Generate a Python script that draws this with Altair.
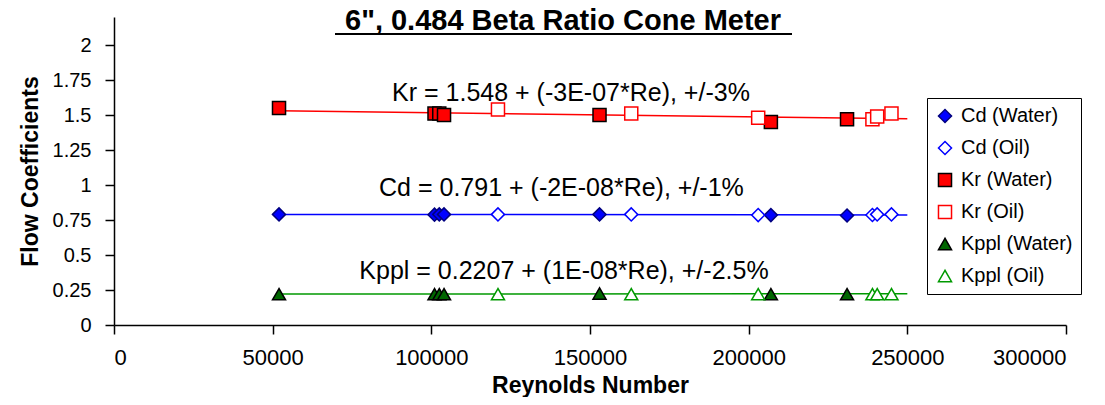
import altair as alt
import pandas as pd

# ---- data ----
series_names = ["Cd (Water)", "Cd (Oil)", "Kr (Water)", "Kr (Oil)", "Kppl (Water)", "Kppl (Oil)"]

re_water = [52000, 101000, 102500, 104000, 153000, 207000, 231000]
re_oil = [121000, 163000, 203000, 239000, 240500, 245000]

cd_water = [0.79, 0.788, 0.79, 0.79, 0.79, 0.785, 0.782]
cd_oil = [0.79, 0.79, 0.785, 0.786, 0.79, 0.79]
kr_water = [1.55, 1.51, 1.51, 1.50, 1.50, 1.45, 1.47]
kr_oil = [1.54, 1.51, 1.48, 1.47, 1.49, 1.51]
kppl_water = [0.22, 0.22, 0.22, 0.22, 0.225, 0.22, 0.22]
kppl_oil = [0.22, 0.22, 0.22, 0.22, 0.22, 0.22]

# fitted trend lines (end points)
trend_names = ["Kr", "Cd", "Kppl"]
trend_re_start = [52000, 52000, 52000]
trend_re_end = [250000, 250000, 250000]
trend_val_start = [1.530, 0.790, 0.2212]
trend_val_end = [1.473, 0.786, 0.2232]

ann_text = ["Kr = 1.548 + (-3E-07*Re), +/-3%",
            "Cd = 0.791 + (-2E-08*Re), +/-1%",
            "Kppl = 0.2207 + (1E-08*Re), +/-2.5%"]
ann_re = [144000, 141000, 141800]
ann_val = [1.66, 0.98, 0.385]

title_text = "6\", 0.484 Beta Ratio Cone Meter"

x_ticks = [0, 50000, 100000, 150000, 200000, 250000, 300000]
y_ticks = [0, 0.25, 0.5, 0.75, 1, 1.25, 1.5, 1.75, 2]

shape_range = ["diamond", "diamond", "square", "square", "triangle-up", "triangle-up"]
fill_range = ["#0000FF", "#FFFFFF", "#FF0000", "#FFFFFF", "#006600", "#FFFFFF"]
stroke_range = ["#000080", "#0000FF", "#000000", "#FF0000", "#000000", "#009900"]
trend_colors = ["#FF0000", "#0000FF", "#009900"]

FONT = "Liberation Sans"

# ---- build tables ----
rows = []
for name, xs, ys in [
    ("Cd (Water)", re_water, cd_water), ("Cd (Oil)", re_oil, cd_oil),
    ("Kr (Water)", re_water, kr_water), ("Kr (Oil)", re_oil, kr_oil),
    ("Kppl (Water)", re_water, kppl_water), ("Kppl (Oil)", re_oil, kppl_oil),
]:
    for x, y in zip(xs, ys):
        rows.append({"series": name, "Re": x, "val": y})
pts = pd.DataFrame(rows)

trows = []
for n, a, b, c, d in zip(trend_names, trend_re_start, trend_re_end, trend_val_start, trend_val_end):
    trows.append({"trend": n, "Re": a, "val": c})
    trows.append({"trend": n, "Re": b, "val": d})
trend = pd.DataFrame(trows)

ann = pd.DataFrame({"text": ann_text, "Re": ann_re, "val": ann_val})
ttl = pd.DataFrame({"text": [title_text]})

xscale = alt.Scale(domain=[0, 300000], nice=False)
yscale = alt.Scale(domain=[0, 2.2], nice=False)

xaxis = alt.Axis(
    values=x_ticks, format="d", tickSize=9, labelPadding=13, labelFontSize=22,
    labelOverlap=False,
    title="Reynolds Number", titleFontSize=23, titleFontWeight="bold",
    titleY=60, titleBaseline="middle")
yaxis = alt.Axis(
    values=y_ticks, format=".2~f", tickSize=9, labelPadding=14, labelFontSize=20,
    labelOverlap=False,
    title="Flow Coefficients", titleFontSize=23, titleFontWeight="bold",
    titleX=-84, titleY=154, titleAngle=270, titleBaseline="middle", titleAlign="center")

xenc = alt.X("Re:Q", scale=xscale, axis=xaxis)
yenc = alt.Y("val:Q", scale=yscale, axis=yaxis)

lines = alt.Chart(trend).mark_line(strokeWidth=1.5).encode(
    x=xenc, y=yenc,
    color=alt.Color("trend:N", scale=alt.Scale(domain=trend_names, range=trend_colors), legend=None),
    detail="trend:N",
)

leg = alt.Legend(orient="none", legendX=813, legendY=81, title=None,
                 labelFontSize=20, labelFont=FONT, labelColor="black",
                 symbolSize=170, symbolStrokeWidth=1.5, strokeColor="black",
                 fillColor="white", padding=8, rowPadding=12, labelOffset=6)

points = alt.Chart(pts).mark_point(filled=True, size=170, strokeWidth=1.5, opacity=1).encode(
    x=xenc, y=yenc,
    shape=alt.Shape("series:N", scale=alt.Scale(domain=series_names, range=shape_range), legend=leg),
    fill=alt.Fill("series:N", scale=alt.Scale(domain=series_names, range=fill_range), legend=leg),
    stroke=alt.Stroke("series:N", scale=alt.Scale(domain=series_names, range=stroke_range), legend=leg),
)

texts = alt.Chart(ann).mark_text(font=FONT, fontSize=25, color="black", baseline="middle", align="center").encode(
    x=xenc, y=yenc, text="text:N")

title_mark = alt.Chart(ttl).mark_text(font=FONT, fontSize=29, fontWeight="bold", color="black",
                                      baseline="alphabetic", align="center").encode(
    x=alt.value(449), y=alt.value(13), text="text:N")

underline = alt.Chart(ttl).mark_rule(color="black", strokeWidth=2).encode(
    x=alt.value(221), x2=alt.value(678), y=alt.value(17))

chart = alt.layer(lines, points, texts, title_mark, underline).properties(
    width=952, height=308,
    autosize=alt.AutoSizeParams(type="none"),
    padding={"left": 106, "top": 9, "right": 31, "bottom": 72},
).configure_axis(
    grid=False, domainColor="black", tickColor="black", labelColor="black", titleColor="black",
    labelFont=FONT, titleFont=FONT, domainWidth=1.5, tickWidth=1.5,
).configure_view(stroke=None)

chart.save("out.html", embed_options={"renderer": "svg", "actions": False})
